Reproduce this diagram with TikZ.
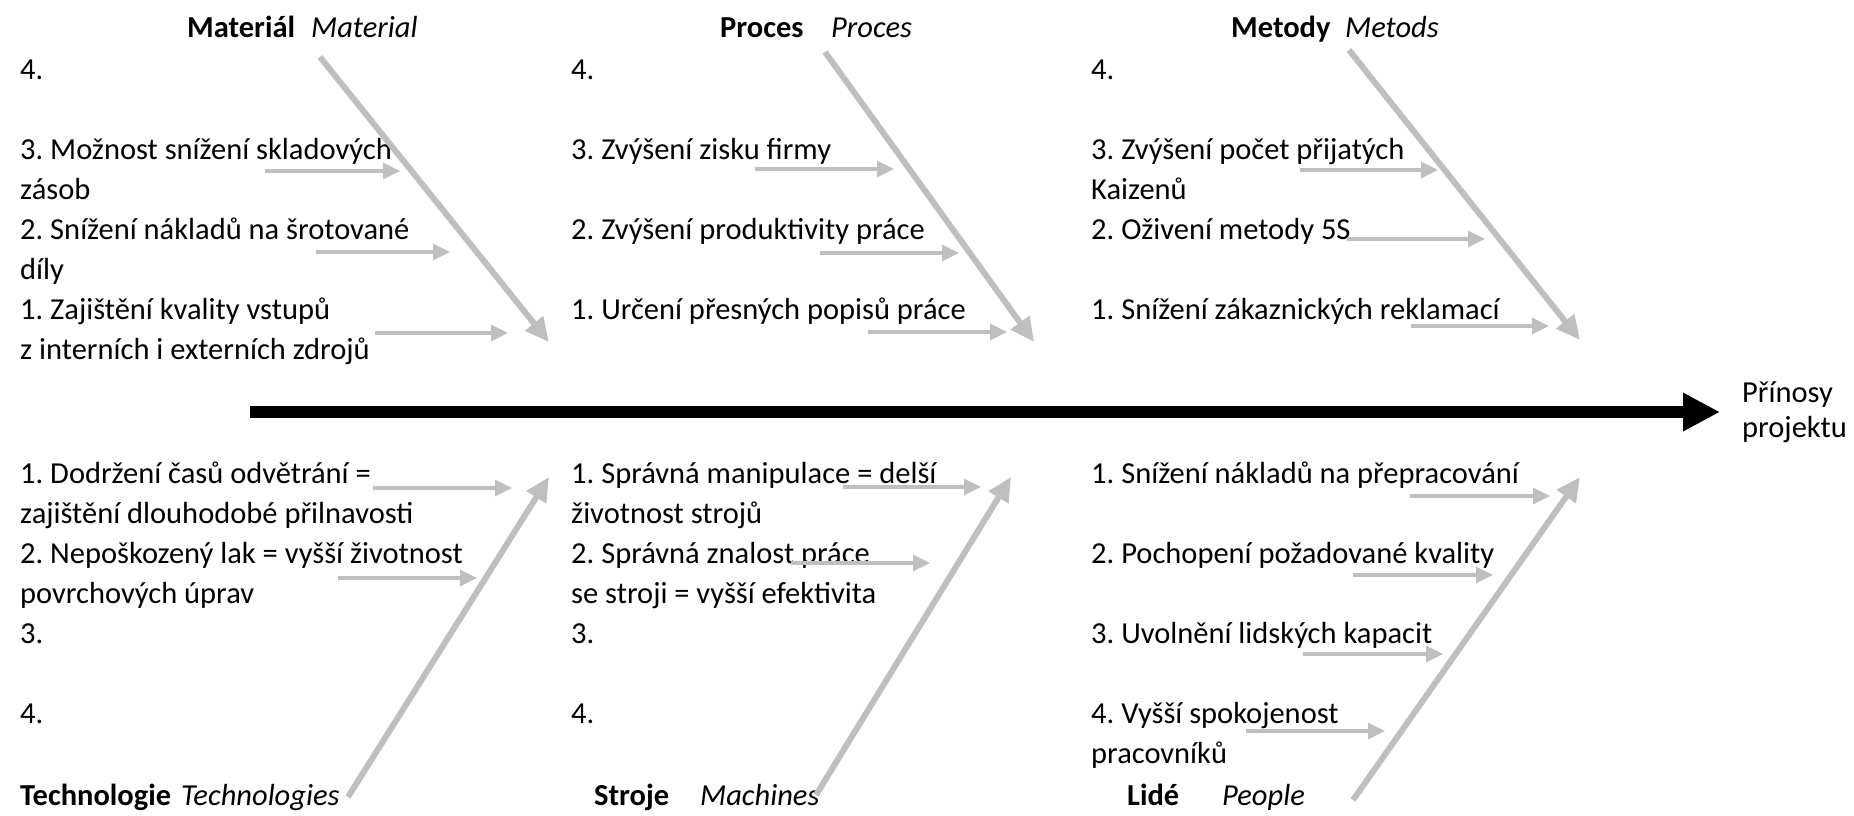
\documentclass[tikz,border=0pt]{standalone}
\usepackage{fontspec}
\setmainfont{Carlito}
\usepackage{xcolor}
\usetikzlibrary{arrows.meta}
\definecolor{bonegray}{RGB}{191,191,191}
\frenchspacing
\tikzset{>=latex,
	cause/.style={anchor=base west, inner sep=0pt, align=left,
		font=\fontsize{30.5}{40}\selectfont},
	cat/.style={anchor=base west, inner sep=0pt,
		font=\fontsize{30.5}{40}\selectfont\bfseries},
	caten/.style={anchor=base west, inner sep=0pt,
		font=\fontsize{30.5}{40}\selectfont\itshape},
	bone/.style={draw=bonegray, line width=6pt,
		-{Triangle[length=24pt,width=22pt]}},
	twig/.style={draw=bonegray, line width=3.3pt,
		-{Triangle[length=17pt,width=16pt]}},
}

\begin{document}
\begin{tikzpicture}[x=1pt, y=-1pt]
\useasboundingbox (0,0) rectangle (1854,815);

% category titles
	\node[cat] (mat) at (187,37) {Materiál};
	\node[caten] (maten) at (311,37) {Material};
	\node[cat] (pro) at (720,37) {Proces};
	\node[caten] (proen) at (831,37) {Proces};
	\node[cat] (met) at (1231,37) {Metody};
	\node[caten] (meten) at (1345,37) {Metods};
	\node[cat] (tech) at (20,805) {Technologie};
	\node[caten] (techen) at (181,805) {Technologies};
	\node[cat] (str) at (594,805) {Stroje};
	\node[caten] (stren) at (700,805) {Machines};
	\node[cat] (lid) at (1127,805) {Lidé};
	\node[caten] (liden) at (1222,805) {People};

% Material (two-line nodes sit on their last line)
	\node[cause] (m4) at (20,79) {4.};
	\node[cause] (m3) at (20,199) {3. Možnost snížení skladových\\zásob};
	\node[cause] (m2) at (20,279) {2. Snížení nákladů na šrotované\\díly};
	\node[cause] (m1) at (20,359) {1. Zajištění kvality vstupů\\z interních i externích zdrojů};

% Proces
	\node[cause] (p4) at (571,79) {4.};
	\node[cause] (p3) at (571,159) {3. Zvýšení zisku firmy};
	\node[cause] (p2) at (571,239) {2. Zvýšení produktivity práce};
	\node[cause] (p1) at (571,319) {1. Určení přesných popisů práce};

% Metody
	\node[cause] (t4) at (1091,79) {4.};
	\node[cause] (t3) at (1091,199) {3. Zvýšení počet přijatých\\Kaizenů};
	\node[cause] (t2) at (1091,239) {2. Oživení metody 5S};
	\node[cause] (t1) at (1091,319) {1. Snížení zákaznických reklamací};

% Technologie
	\node[cause] (h1) at (20,523) {1. Dodržení časů odvětrání =\\zajištění dlouhodobé přilnavosti};
	\node[cause] (h2) at (20,603) {2. Nepoškozený lak = vyšší životnost\\povrchových úprav};
	\node[cause] (h3) at (20,643) {3.};
	\node[cause] (h4) at (20,723) {4.};

% Stroje
	\node[cause] (s1) at (571,523) {1. Správná manipulace = delší\\životnost strojů};
	\node[cause] (s2) at (571,603) {2. Správná znalost práce\\se stroji = vyšší efektivita};
	\node[cause] (s3) at (571,643) {3.};
	\node[cause] (s4) at (571,723) {4.};

% Lide
	\node[cause] (l1) at (1091,483) {1. Snížení nákladů na přepracování};
	\node[cause] (l2) at (1091,563) {2. Pochopení požadované kvality};
	\node[cause] (l3) at (1091,643) {3. Uvolnění lidských kapacit};
	\node[cause] (l4) at (1091,763) {4. Vyšší spokojenost\\pracovníků};

% effect
	\node[cause, font=\fontsize{30.5}{35}\selectfont] (goal) at (1742,437) {Přínosy\\projektu};

% spine
	\coordinate (tail) at (250,412);
	\coordinate (head) at (1720,412);
	\draw[line width=12pt, -{Triangle[length=37pt,width=36pt]}] (tail) -- (head);

% bones
	\coordinate (matA) at (320,57);    \coordinate (matB) at (549,342);
	\coordinate (proA) at (825,52);    \coordinate (proB) at (1034,342);
	\coordinate (metA) at (1349,50);   \coordinate (metB) at (1580,340);
	\coordinate (techA) at (348,797);  \coordinate (techB) at (549,477);
	\coordinate (strA) at (816,795);   \coordinate (strB) at (1011,477);
	\coordinate (lidA) at (1353,800);  \coordinate (lidB) at (1580,477);
	\draw[bone] (matA) -- (matB);
	\draw[bone] (proA) -- (proB);
	\draw[bone] (metA) -- (metB);
	\draw[bone] (techA) -- (techB);
	\draw[bone] (strA) -- (strB);
	\draw[bone] (lidA) -- (lidB);

% twigs
	\coordinate (m3a) at (265,171);  \coordinate (m3b) at (400,171);
	\coordinate (m2a) at (316,252);  \coordinate (m2b) at (450,252);
	\coordinate (m1a) at (375,333);  \coordinate (m1b) at (508,333);
	\coordinate (p3a) at (755,169);  \coordinate (p3b) at (894,169);
	\coordinate (p2a) at (820,253);  \coordinate (p2b) at (959,253);
	\coordinate (p1a) at (868,332);  \coordinate (p1b) at (1007,332);
	\coordinate (t3a) at (1300,170); \coordinate (t3b) at (1438,170);
	\coordinate (t2a) at (1347,239); \coordinate (t2b) at (1485,239);
	\coordinate (t1a) at (1411,326); \coordinate (t1b) at (1549,326);
	\coordinate (h1a) at (373,488);  \coordinate (h1b) at (512,488);
	\coordinate (h2a) at (338,578);  \coordinate (h2b) at (477,578);
	\coordinate (s1a) at (843,487);  \coordinate (s1b) at (981,487);
	\coordinate (s2a) at (791,563);  \coordinate (s2b) at (930,563);
	\coordinate (l1a) at (1410,496); \coordinate (l1b) at (1550,496);
	\coordinate (l2a) at (1353,575); \coordinate (l2b) at (1493,575);
	\coordinate (l3a) at (1303,654); \coordinate (l3b) at (1443,654);
	\coordinate (l4a) at (1246,731); \coordinate (l4b) at (1385,731);
	\draw[twig] (m3a) -- (m3b);
	\draw[twig] (m2a) -- (m2b);
	\draw[twig] (m1a) -- (m1b);
	\draw[twig] (p3a) -- (p3b);
	\draw[twig] (p2a) -- (p2b);
	\draw[twig] (p1a) -- (p1b);
	\draw[twig] (t3a) -- (t3b);
	\draw[twig] (t2a) -- (t2b);
	\draw[twig] (t1a) -- (t1b);
	\draw[twig] (h1a) -- (h1b);
	\draw[twig] (h2a) -- (h2b);
	\draw[twig] (s1a) -- (s1b);
	\draw[twig] (s2a) -- (s2b);
	\draw[twig] (l1a) -- (l1b);
	\draw[twig] (l2a) -- (l2b);
	\draw[twig] (l3a) -- (l3b);
	\draw[twig] (l4a) -- (l4b);
\end{tikzpicture}
\end{document}
